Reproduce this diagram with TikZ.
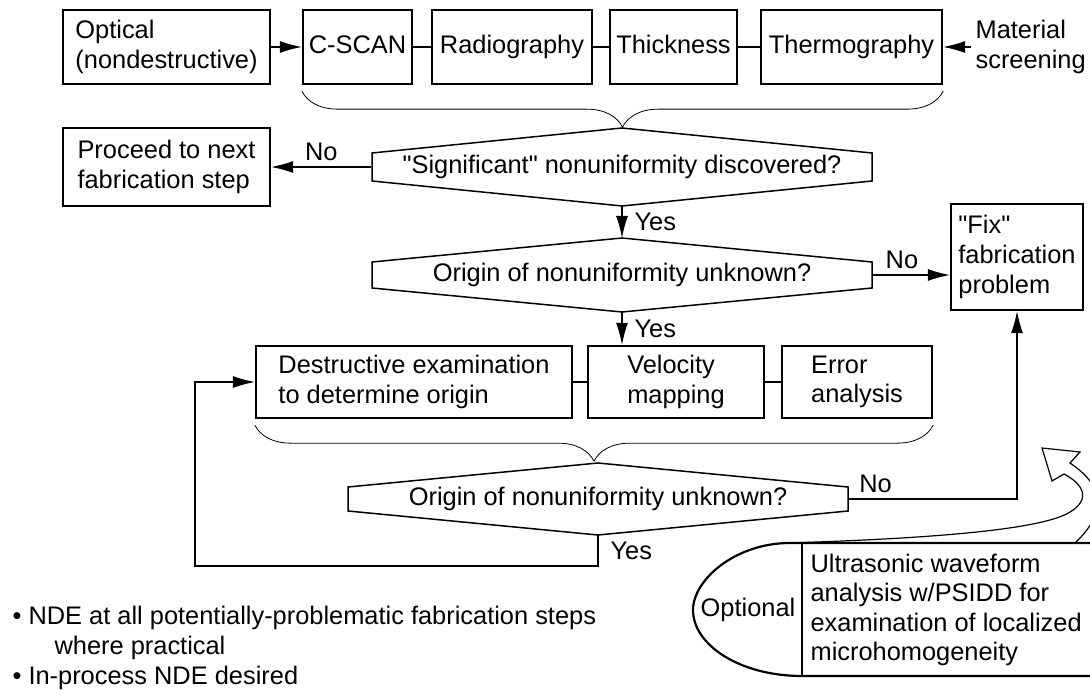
\documentclass[tikz,border=0pt]{standalone}
\usepackage{fontspec}
\setmainfont{Liberation Sans}[Ligatures=TeXOff]
\usetikzlibrary{calc}
\usetikzlibrary{arrows.meta}
\usetikzlibrary{decorations.pathreplacing}
\newcommand{\diagfont}{\fontsize{12.7}{14.8}\selectfont}

\begin{document}
\begin{tikzpicture}[x=0.5pt, y=-0.5pt, line width=0.6pt, >={Latex[length=11pt,width=6pt]},
    every node/.style={font=\diagfont},
    box/.style={rectangle, draw, line width=1.15pt, align=left, inner sep=0pt},
    one/.style={text height=9.2pt, text depth=2.6pt},
    txt/.style={align=left, inner sep=2pt},
    lbl/.style={inner sep=3pt},
    hex/.style={line width=0.75pt},
    brc/.style={line width=0.4pt, decorate, decoration={brace, amplitude=18pt}},
  ]
\useasboundingbox (0,0) rectangle (1090,694);
\clip (0,0) rectangle (1090,694);
% Row 1
\node[box, minimum width=103.5pt, minimum height=37pt] (opt) at (166.5,47) {Optical\\(nondestructive)};
\node[box, one, minimum width=54.5pt, minimum height=37pt] (cscan) at (357.5,47) {C-SCAN};
\node[box, one, minimum width=80pt, minimum height=37pt] (radio) at (512,47) {Radiography};
\node[box, one, minimum width=63.5pt, minimum height=37pt] (thick) at (673.5,47) {Thickness};
\node[box, one, minimum width=90.5pt, minimum height=37pt] (thermo) at (851.5,47) {Thermography};
\node[txt, anchor=west] (mat) at (971,47) {Material\\screening};
% Row 2
\node[box, minimum width=103.5pt, minimum height=39pt] (proc) at (166.5,167) {Proceed to next\\fabrication step};
\node[one, minimum width=250pt, inner sep=0pt] (h1) at (622,167) {"Significant" nonuniformity discovered?};
% Row 3
\node[one, minimum width=250pt, inner sep=0pt] (h2) at (622,275) {Origin of nonuniformity unknown?};
\node[box, minimum width=66pt, minimum height=53pt] (fix) at (1017,257) {"Fix"\\fabrication\\problem};
% Row 4
\node[box, minimum width=158pt, minimum height=36pt] (dest) at (414,382) {Destructive examination\\to determine origin};
\node[box, minimum width=88pt, minimum height=36pt] (velo) at (676,382) {Velocity\\mapping};
\node[box, minimum width=75pt, minimum height=36pt] (err) at (857,382) {Error\\analysis};
% Row 5
\node[one, minimum width=250pt, inner sep=0pt] (h3) at (598,499) {Origin of nonuniformity unknown?};
\coordinate (back) at (195,566);

\foreach \h/\s/\d in {h1/14/39, h2/13/37, h3/12/36} {
  \draw[hex] ($(\h)+(-250,-\s)$) -- ($(\h)+(0,-\d)$) coordinate (\h-t) -- ($(\h)+(250,-\s)$)
    -- ($(\h)+(250,\s)$) -- ($(\h)+(0,\d)$) coordinate (\h-b) -- ($(\h)+(-250,\s)$) -- cycle;
};

\draw[brc] ($(thermo.south east)+(0,6)$) -- ($(cscan.south west)+(0,6)$);
\draw[brc] ($(err.south east)+(0,6)$) -- ($(dest.south west)+(0,6)$);

\draw[->] (opt) -- (cscan);
\draw (cscan) -- (radio); \draw (radio) -- (thick); \draw (thick) -- (thermo);
\draw[->] (mat.west) -- (thermo.east);
\draw (dest) -- (velo); \draw (velo) -- (err);

\draw[->] (h1.west) -- node[lbl, above] {No} (proc.east);
\draw[->] (h1-b) -- node[lbl, right, xshift=3pt] {Yes} (h2-t);
\draw[->] (h2.east) -- node[lbl, above, pos=0.38] {No} (h2.east -| fix.west);
\draw[->] (h2-b) -- node[lbl, right, xshift=3pt] {Yes} (h2-b |- velo.north);
\draw[->] (h3.east) -| node[lbl, above, pos=0.08] {No} (fix.south);
\draw[->] (h3-b) |- node[lbl, right, pos=0.25, xshift=3pt] {Yes} (back) |- (dest.west);

% optional analysis
\filldraw[fill=white, line width=0.6pt] (787,543) .. controls (950,538) and (1045,528) .. (1070,512)
  .. controls (1090,500) and (1085,485) .. (1064,474) -- (1052,481) -- (1042,448) -- (1080,452)
  -- (1070,463) .. controls (1095,480) and (1115,505) .. (1075,543) -- cycle;
\draw[line width=1.1pt] (1100,543) -- (790,543) .. controls (735,543) and (693,580) .. (693,610)
  .. controls (693,645) and (740,676) .. (802,676) -- (1100,676);
\draw[line width=0.9pt] (802,543) -- (802,676);
\node (opl) at (748,610) {Optional};
\node[txt, anchor=west] (ultra) at (806,610) {Ultrasonic waveform\\analysis w/PSIDD for\\examination of localized\\microhomogeneity};

\node[txt, anchor=west] (notes) at (8,648) {• NDE at all potentially-problematic fabrication steps\\\hspace*{21pt}where practical\\• In-process NDE desired};
\end{tikzpicture}
\end{document}
